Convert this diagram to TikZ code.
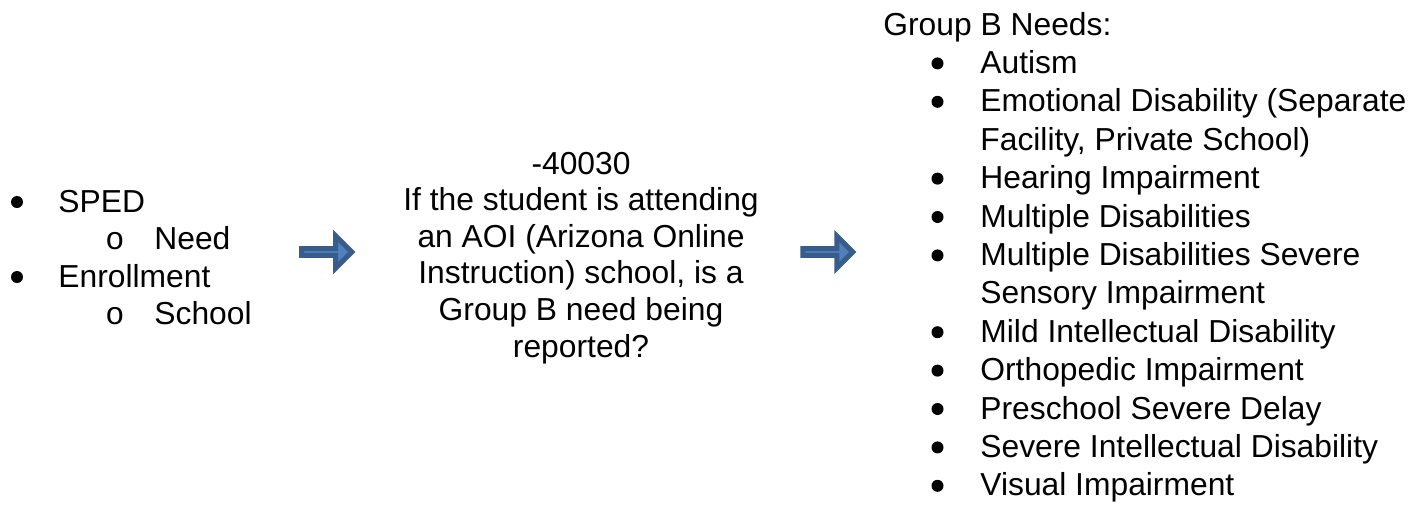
\documentclass[tikz,border=0pt]{standalone}
\usepackage{fontspec}
\setmainfont{Liberation Sans}
\newfontfamily\subbulletfont{Liberation Mono}
\usetikzlibrary{positioning,shapes.arrows}

\definecolor{blockfill}{HTML}{4F81BD}
\definecolor{blockline}{HTML}{385D8A}

\begin{document}
\begin{tikzpicture}[
  x=0.5pt, y=-0.5pt,
  font=\fontsize{15.9}{18.5}\selectfont,
  line/.style={inner sep=0pt, anchor=base west},
  midline/.style={inner sep=0pt, anchor=base},
  dot/.style={circle, fill=black, inner sep=0pt, minimum size=6pt},
  ring/.style={inner sep=0pt, anchor=base, font=\fontsize{15.9}{18.5}\subbulletfont},
  blockarrow/.style={single arrow, draw=blockline, fill=blockfill,
             line width=2.5pt, inner sep=0pt, minimum height=25pt,
             minimum width=16pt, single arrow head extend=4.5pt},
]
\useasboundingbox (0,0) rectangle (1422,504);
% data elements
\node[dot] (b1) at (17,202) {};
\node[line] (l1) at (58,212) {SPED};
\node[ring] (o1) at (115,249) {o};
\node[line] (l2) at (154,249) {Need};
\node[dot] (b2) at (17,277) {};
\node[line] (l3) at (58,287) {Enrollment};
\node[ring] (o2) at (115,324) {o};
\node[line] (l4) at (154,324) {School};
% block arrows
\node[blockarrow] (a1) at (325,252) {};
\node[blockarrow] (a2) at (826,252) {};
% rule text
\foreach \t [count=\i] in {-40030, If the student is attending, an AOI (Arizona Online,
    {Instruction) school, is a}, Group B need being, reported?}
  \node[midline] (m\i) at (581,{174+(\i-1)*36.6}) {\t};
% group B list
\node[line] (g0) at (883,35) {Group B Needs:};
\foreach \b/\t [count=\i] in {1/Autism, 1/Emotional Disability (Separate,
    0/{Facility, Private School)}, 1/Hearing Impairment, 1/Multiple Disabilities,
    1/Multiple Disabilities Severe, 0/Sensory Impairment, 1/Mild Intellectual Disability,
    1/Orthopedic Impairment, 1/Preschool Severe Delay, 1/Severe Intellectual Disability,
    1/Visual Impairment}{
  \node[line] (g\i) at (980,{35+\i*38.4}) {\t};
  \ifnum\b=1 \node[dot] (d\i) at (937.5,{25+\i*38.4}) {}; \fi
}
\end{tikzpicture}
\end{document}
